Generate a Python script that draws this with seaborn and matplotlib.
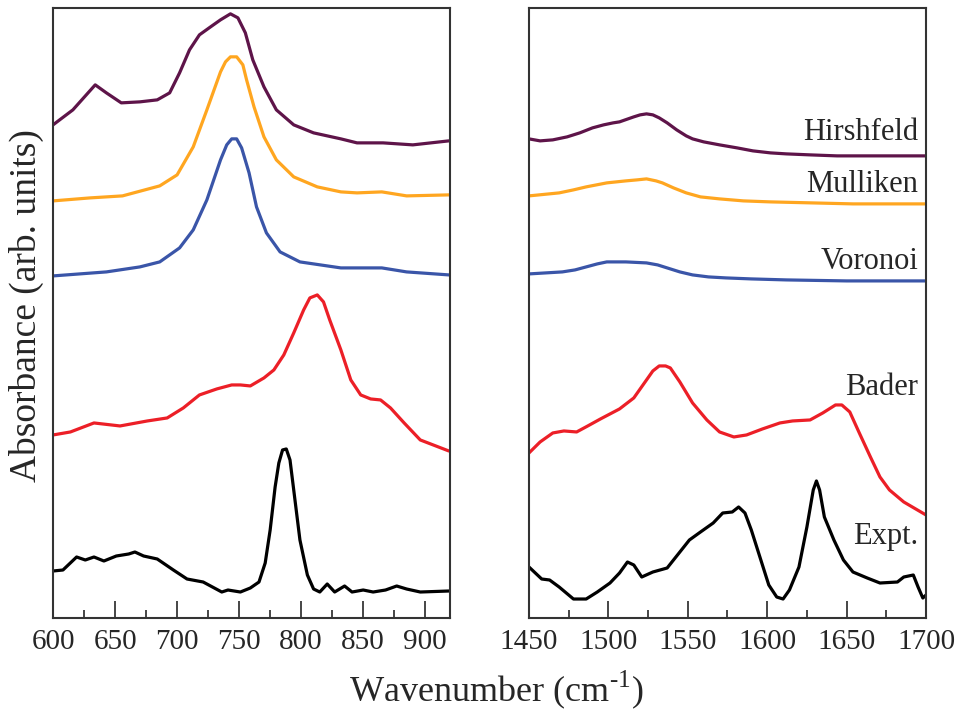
import numpy as np
import pandas as pd
import seaborn as sns
import matplotlib.pyplot as plt
from matplotlib.ticker import MultipleLocator

# low-frequency window (cm-1) -- absorbance, already vertically stacked
hir_lo_x = [600, 616, 634, 643, 655, 670, 684, 694, 702, 710, 718, 727, 735, 743, 749, 755, 761, 770, 780, 794,
            810, 832, 845, 866, 890, 919]
hir_lo_y = [4.93, 5.08, 5.33, 5.25, 5.15, 5.16, 5.18, 5.25, 5.45, 5.68, 5.83, 5.91, 5.98, 6.04, 6.00, 5.85, 5.58,
            5.31, 5.08, 4.93, 4.85, 4.79, 4.75, 4.75, 4.73, 4.77]

mul_lo_x = [600, 630, 656, 686, 700, 713, 724, 735, 739, 743, 748, 753, 756, 762, 770, 780, 794, 813, 832, 845,
            865, 885, 919]
mul_lo_y = [4.17, 4.20, 4.22, 4.32, 4.43, 4.71, 5.08, 5.46, 5.56, 5.61, 5.61, 5.53, 5.38, 5.11, 4.81, 4.58, 4.41,
            4.31, 4.26, 4.25, 4.26, 4.22, 4.23]

vor_lo_x = [600, 643, 670, 686, 702, 713, 724, 735, 740, 744, 748, 752, 758, 764, 772, 783, 799, 832, 865, 885, 919]
vor_lo_y = [3.42, 3.46, 3.51, 3.56, 3.70, 3.88, 4.18, 4.58, 4.73, 4.79, 4.79, 4.70, 4.45, 4.11, 3.85, 3.66, 3.56,
            3.50, 3.50, 3.46, 3.43]

bad_lo_x = [600, 614, 633, 654, 676, 692, 705, 718, 732, 744, 751, 759, 770, 778, 786, 794, 802, 807, 813, 818,
            823, 832, 840, 848, 856, 864, 872, 883, 896, 919]
bad_lo_y = [1.83, 1.86, 1.95, 1.92, 1.97, 2.00, 2.10, 2.23, 2.29, 2.33, 2.33, 2.32, 2.40, 2.48, 2.63, 2.85, 3.08,
            3.20, 3.23, 3.16, 2.98, 2.68, 2.38, 2.23, 2.19, 2.18, 2.10, 1.95, 1.78, 1.67]

exp_lo_x = [600, 608, 619, 626, 633, 641, 651, 661, 666, 673, 684, 697, 708, 721, 736, 741, 751, 759, 766, 771,
            775, 779, 782, 785, 788, 791, 795, 799, 805, 810, 815, 821, 827, 835, 841, 850, 858, 868, 877, 885, 896, 919]
exp_lo_y = [0.47, 0.48, 0.61, 0.58, 0.61, 0.57, 0.62, 0.64, 0.66, 0.62, 0.59, 0.48, 0.39, 0.36, 0.26, 0.28, 0.26,
            0.30, 0.36, 0.55, 0.88, 1.31, 1.55, 1.68, 1.69, 1.58, 1.18, 0.78, 0.43, 0.29, 0.26, 0.34, 0.26, 0.32,
            0.26, 0.28, 0.26, 0.28, 0.32, 0.29, 0.26, 0.27]

# high-frequency window
hir_hi_x = [1450, 1457, 1465, 1474, 1482, 1490, 1497, 1503, 1507, 1516, 1520, 1524, 1528, 1532, 1537, 1543, 1549,
            1553, 1560, 1570, 1581, 1591, 1602, 1612, 1627, 1644, 1700]
hir_hi_y = [4.79, 4.77, 4.78, 4.81, 4.85, 4.90, 4.93, 4.95, 4.96, 5.01, 5.03, 5.04, 5.03, 5.00, 4.95, 4.88, 4.82,
            4.79, 4.76, 4.73, 4.70, 4.67, 4.65, 4.64, 4.63, 4.62, 4.62]

mul_hi_x = [1450, 1469, 1478, 1486, 1499, 1511, 1518, 1524, 1530, 1534, 1541, 1549, 1558, 1570, 1585, 1602, 1654, 1700]
mul_hi_y = [4.22, 4.25, 4.28, 4.31, 4.35, 4.37, 4.38, 4.39, 4.37, 4.35, 4.30, 4.25, 4.21, 4.19, 4.17, 4.16, 4.14, 4.14]

vor_hi_x = [1450, 1471, 1479, 1486, 1493, 1499, 1511, 1524, 1531, 1537, 1545, 1553, 1563, 1574, 1590, 1612, 1650, 1700]
vor_hi_y = [3.44, 3.46, 3.48, 3.51, 3.54, 3.56, 3.56, 3.55, 3.53, 3.50, 3.46, 3.43, 3.41, 3.40, 3.39, 3.38, 3.37, 3.37]

bad_hi_x = [1450, 1457, 1465, 1472, 1480, 1487, 1495, 1501, 1507, 1516, 1524, 1528, 1532, 1536, 1539, 1545, 1553,
            1562, 1570, 1579, 1587, 1597, 1608, 1616, 1627, 1635, 1643, 1647, 1652, 1658, 1665, 1671, 1677, 1686, 1700]
bad_hi_y = [1.65, 1.76, 1.85, 1.87, 1.86, 1.92, 1.99, 2.04, 2.09, 2.20, 2.38, 2.47, 2.52, 2.52, 2.50, 2.36, 2.15,
            1.98, 1.86, 1.81, 1.83, 1.89, 1.95, 1.97, 1.98, 2.05, 2.13, 2.13, 2.06, 1.85, 1.61, 1.41, 1.28, 1.16, 1.03]

exp_hi_x = [1450, 1458, 1463, 1469, 1478, 1486, 1493, 1501, 1507, 1512, 1516, 1521, 1528, 1537, 1545, 1551, 1558,
            1566, 1572, 1578, 1582, 1586, 1590, 1596, 1601, 1606, 1610, 1614, 1620, 1625, 1629, 1631, 1633, 1636,
            1642, 1648, 1654, 1663, 1671, 1682, 1686, 1692, 1695, 1698, 1700]
exp_hi_y = [0.51, 0.39, 0.38, 0.31, 0.19, 0.19, 0.26, 0.35, 0.45, 0.56, 0.53, 0.41, 0.46, 0.50, 0.66, 0.78, 0.86,
            0.95, 1.05, 1.06, 1.11, 1.05, 0.88, 0.58, 0.33, 0.21, 0.19, 0.28, 0.51, 0.91, 1.28, 1.37, 1.28, 1.01,
            0.78, 0.58, 0.46, 0.40, 0.35, 0.36, 0.41, 0.43, 0.31, 0.20, 0.23]

names = ["Hirshfeld", "Mulliken", "Voronoi", "Bader", "Expt."]
colors = ["#5e1449", "#ffa620", "#3a55a8", "#ec1f27", "#000000"]

lo = [(hir_lo_x, hir_lo_y), (mul_lo_x, mul_lo_y), (vor_lo_x, vor_lo_y), (bad_lo_x, bad_lo_y), (exp_lo_x, exp_lo_y)]
hi = [(hir_hi_x, hir_hi_y), (mul_hi_x, mul_hi_y), (vor_hi_x, vor_hi_y), (bad_hi_x, bad_hi_y), (exp_hi_x, exp_hi_y)]

sns.set_style("ticks")
plt.rcParams['font.family'] = ['Liberation Serif', 'DejaVu Serif']
plt.rcParams['mathtext.fontset'] = 'custom'
plt.rcParams['mathtext.rm'] = 'Liberation Serif'
plt.rcParams['lines.solid_joinstyle'] = 'round'
plt.rcParams['lines.solid_capstyle'] = 'round'

fig = plt.figure(figsize=(9.59, 7.12), dpi=100)
ax1 = fig.add_axes([0.0553, 0.132, 0.414, 0.857])
ax2 = fig.add_axes([0.5516, 0.132, 0.414, 0.857])

for (x, y), c in zip(lo, colors):
    sns.lineplot(x=x, y=y, ax=ax1, color=c, lw=2.3, sort=False)
for (x, y), c in zip(hi, colors):
    sns.lineplot(x=x, y=y, ax=ax2, color=c, lw=2.3, sort=False)

ax1.set_xlim(600, 920)
ax2.set_xlim(1450, 1700)

for ax in (ax1, ax2):
    ax.set_ylim(0, 6.1)
    ax.set_yticks([])
    ax.xaxis.set_major_locator(MultipleLocator(50))
    ax.xaxis.set_minor_locator(MultipleLocator(25))
    ax.tick_params(axis='x', which='major', direction='in', length=12, width=1.2, labelsize=21, pad=8)
    ax.tick_params(axis='x', which='minor', direction='in', length=6, width=1.2)
    for s in ax.spines.values():
        s.set_linewidth(1.5)
        s.set_color('#333333')
    ax.set_xlabel("")
    ax.set_ylabel("")

# curve labels on the right panel
label_y = [4.85, 4.33, 3.56, 2.30, 0.81]
for n, ly in zip(names, label_y):
    ax2.text(1695, ly, n, ha='right', va='center', fontsize=22)

fig.text(0.517, 0.031, "Wavenumber (cm$^{\\mathregular{\u20101}}$)", ha='center', va='center', fontsize=26)
fig.text(0.028, 0.571, "Absorbance (arb. units)", ha='center', va='center', rotation=90, fontsize=27)

fig.savefig("out.png", dpi=100)
